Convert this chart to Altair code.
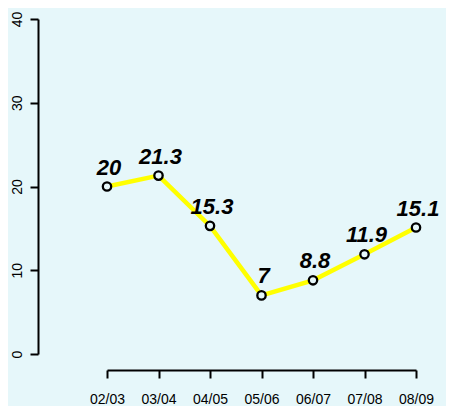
import altair as alt
import pandas as pd

seasons = ["02/03", "03/04", "04/05", "05/06", "06/07", "07/08", "08/09"]
values = [20, 21.3, 15.3, 7, 8.8, 11.9, 15.1]
labels = ["20", "21.3", "15.3", "7", "8.8", "11.9", "15.1"]

df = pd.DataFrame({"season": seasons, "value": values, "label": labels})

BG = "#E6F7FA"
FONT = "Liberation Sans"

x = alt.X(
    "season:N",
    sort=seasons,
    title=None,
    scale=alt.Scale(type="point", padding=0),
    axis=alt.Axis(
        offset=16,
        labelAngle=0,
        labelFontSize=14,
        labelFont=FONT,
        labelColor="black",
        labelPadding=14,
        tickSize=8,
        tickWidth=2,
        tickColor="black",
        domainColor="black",
        domainWidth=2,
        grid=False,
    ),
)
y = alt.Y(
    "value:Q",
    title=None,
    scale=alt.Scale(domain=[0, 40], nice=False, zero=True),
    axis=alt.Axis(
        values=[0, 10, 20, 30, 40],
        offset=69,
        labelAngle=270,
        labelAlign="center",
        labelBaseline="bottom",
        labelFontSize=14,
        labelFont=FONT,
        labelColor="black",
        labelPadding=6,
        tickSize=8,
        tickWidth=2,
        tickColor="black",
        domainColor="black",
        domainWidth=2,
        grid=False,
    ),
)

base = alt.Chart(df).encode(x=x, y=y)

line = base.mark_line(color="#FFFF00", strokeWidth=4.5, clip=False)
points = base.mark_point(
    shape="circle", size=70, filled=False, fill=BG, fillOpacity=1,
    stroke="black", strokeWidth=2.3, clip=False
)
text = base.mark_text(
    font=FONT, fontSize=22, fontWeight="bold", fontStyle="italic",
    color="black", dy=-19, dx=2, baseline="middle", align="center"
).encode(text="label:N")

chart = (
    alt.layer(line, points, text)
    .properties(
        width=309,
        height=335,
        background=BG,
        padding={"left": 99, "top": 11, "right": 30, "bottom": 52},
        autosize=alt.AutoSizeParams(type="none"),
    )
    .configure_view(stroke=None, fill=BG)
)

chart.save("out.html", embed_options={"renderer": "svg", "actions": False})
